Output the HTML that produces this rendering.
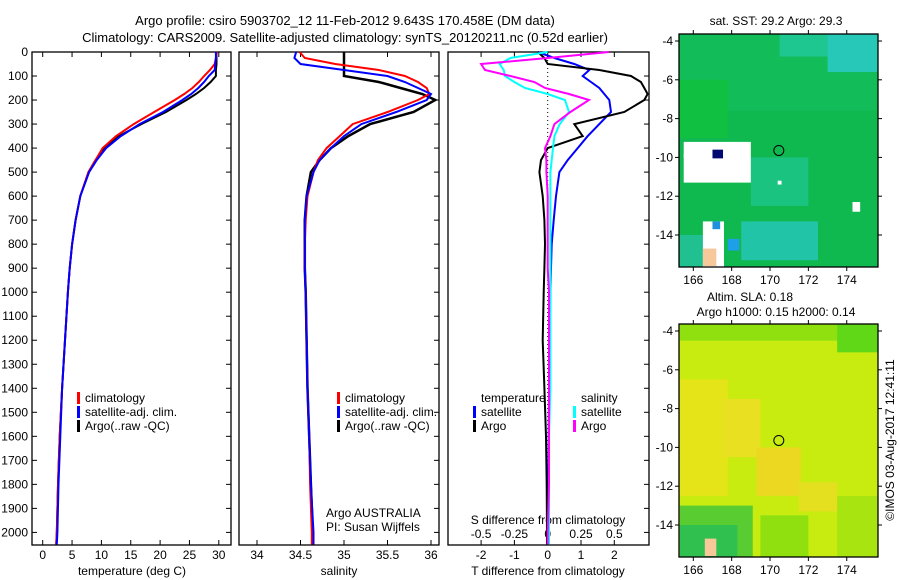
<!DOCTYPE html>
<html><head><meta charset="utf-8"><style>
body{margin:0;background:#fff}
svg{display:block;font-family:"Liberation Sans",sans-serif}
text{font-size:12px;fill:#000}
</style></head><body>
<svg id="c" width="900" height="580" viewBox="0 0 900 580">
<defs>
<clipPath id="clip1"><rect x="679" y="34" width="199" height="233"/></clipPath>
<clipPath id="clip2"><rect x="679" y="324" width="199" height="233"/></clipPath>
</defs>
<text x="345" y="25" text-anchor="middle" style="font-size:13px">Argo profile: csiro 5903702_12 11-Feb-2012 9.643S 170.458E (DM data)</text>
<text x="345" y="42" text-anchor="middle" style="font-size:13px">Climatology: CARS2009. Satellite-adjusted climatology: synTS_20120211.nc (0.52d earlier)</text>
<g id="g"></g>
</svg>
<script>
// depth levels
const depths=[0,25,50,75,100,125,150,175,200,250,300,350,400,450,500,600,700,800,900,1000,1200,1400,1600,1800,2000,2050];
const tClim=[29.7,29.5,29.3,28.5,27.5,26.6,25.5,24.1,22.5,19,15.5,12.5,10.2,9.0,7.8,6.4,5.6,5.0,4.6,4.3,3.8,3.3,2.9,2.6,2.4,2.3];
const tSat=[29.5,29.5,29.4,29.3,28.3,27.5,26.5,25.3,23.8,20.5,16.5,13.3,10.8,9.2,7.9,6.4,5.6,5.0,4.6,4.3,3.8,3.3,3.0,2.7,2.5,2.4];
const tArgo=[29.6,29.6,29.6,29.5,29.5,28.6,27.5,26.1,24.5,21,16.8,13,10.5,9.0,7.8,6.4,5.6,5.0,4.6,4.3,3.8,3.3,2.9,2.6,2.4,2.3];
const sClim=[34.49,34.55,34.9,35.4,35.7,35.85,35.95,35.98,35.85,35.5,35.1,34.95,34.8,34.7,34.65,34.58,34.56,34.55,34.55,34.56,34.57,34.58,34.6,34.61,34.63,34.63];
const sSat=[34.45,34.43,34.5,35.0,35.5,35.7,35.85,36.0,35.95,35.6,35.2,35.0,34.85,34.72,34.65,34.57,34.55,34.55,34.55,34.56,34.57,34.58,34.6,34.62,34.65,34.65];
const sArgo=[35.0,35.0,35.0,35.0,35.0,35.4,35.65,35.9,36.05,35.8,35.3,35.05,34.85,34.72,34.62,34.57,34.55,34.55,34.55,34.56,34.57,34.58,34.6,34.62,34.64,34.64];
const dTSat=[-0.3,0.2,0.8,1.25,1.05,1.3,1.55,1.7,1.85,1.9,1.55,1.2,0.9,0.6,0.35,0.25,0.18,0.12,0.1,0.08,0.06,0.04,0.03,0.02,0.01,0.01];
const dTArgo=[-0.3,-0.1,0.0,1.55,2.5,2.8,2.9,3.0,2.9,2.3,0.8,1.05,0.0,-0.2,-0.25,-0.15,-0.1,-0.08,-0.1,-0.12,-0.15,-0.1,-0.05,-0.03,-0.02,-0.02];
const dSSat=[0,-0.28,-0.36,-0.33,-0.32,-0.25,-0.17,0,0.13,0.16,0.09,0.05,0.04,0.03,0.02,0.02,0.02,0.02,0.02,0.02,0.02,0.02,0.01,0.01,0.01,0.01];
const dSArgo=[0.46,0,-0.5,-0.47,-0.28,-0.1,-0.02,0.16,0.31,0.17,0.05,0.02,-0.02,-0.01,-0.01,0,0,0,0,0.01,0.01,0.01,0.01,0.01,0,0];
const depthTicks=[0,100,200,300,400,500,600,700,800,900,1000,1100,1200,1300,1400,1500,1600,1700,1800,1900,2000];
const tTicks=[0,5,10,15,20,25,30];
const sTicks=[34,34.5,35,35.5,36];
const sTickLabels=["34","34.5","35","35.5","36"];
const dTTicks=[-2,-1,0,1,2];
const dSTicks=[-0.5,-0.25,0,0.25,0.5];
const lonTicks=[166,168,170,172,174];
const latTicks=[-4,-6,-8,-10,-12,-14];
const argoLon=170.458, argoLat=-9.643;

const NS="http://www.w3.org/2000/svg";
const g=document.getElementById('g');
function el(tag,at,txt,parent){const e=document.createElementNS(NS,tag);for(const k in at)e.setAttribute(k,at[k]);if(txt!==undefined)e.textContent=txt;(parent||g).appendChild(e);return e;}
const yD=d=>52+d*0.2402;
const xT=t=>42.7+t*5.87;
const xS=s=>257+(s-34)*87;
const xdT=v=>547.7+v*33.3;
const xdS=v=>547.7+v*133.3;
const TOP=52,BOT=545;

function frame(x0,x1,name){
  const r=el('rect',{x:x0,y:TOP,width:x1-x0,height:BOT-TOP,fill:'none',stroke:'#000','stroke-width':1.3});
  
  
  depthTicks.forEach(d=>{
    el('line',{x1:x1,x2:x1-5,y1:yD(d),y2:yD(d),stroke:'#000'});
  });
}
frame(32,231,'temperature-panel');
frame(239,439,'salinity-panel');
frame(448,649,'difference-panel');
depthTicks.forEach(d=>{
  const t=el('text',{x:28,y:yD(d)+4,'text-anchor':'end'},String(d));
  
  
  el('line',{x1:32,x2:37,y1:yD(d),y2:yD(d),stroke:'#000'});
});
tTicks.forEach(v=>{
  el('line',{x1:xT(v),x2:xT(v),y1:BOT,y2:BOT-5,stroke:'#000'});
  el('line',{x1:xT(v),x2:xT(v),y1:TOP,y2:TOP+5,stroke:'#000'});
  const t=el('text',{x:xT(v),y:559,'text-anchor':'middle'},String(v));
  
  
});
sTicks.forEach((v,i)=>{
  el('line',{x1:xS(v),x2:xS(v),y1:BOT,y2:BOT-5,stroke:'#000'});
  el('line',{x1:xS(v),x2:xS(v),y1:TOP,y2:TOP+5,stroke:'#000'});
  const t=el('text',{x:xS(v),y:559,'text-anchor':'middle'},sTickLabels[i]);
  
  
});
dTTicks.forEach(v=>{
  el('line',{x1:xdT(v),x2:xdT(v),y1:BOT,y2:BOT-5,stroke:'#000'});
  el('line',{x1:xdT(v),x2:xdT(v),y1:TOP,y2:TOP+5,stroke:'#000'});
  const t=el('text',{x:xdT(v),y:559,'text-anchor':'middle'},String(v));
  
  
});
dSTicks.forEach(v=>{
  const t=el('text',{x:xdS(v),y:538,'text-anchor':'middle'},String(v));
  
  
});
el('line',{x1:xdT(0),x2:xdT(0),y1:TOP,y2:BOT,stroke:'#000','stroke-dasharray':'1,3'});
[['temperature (deg C)',132,'x-axis-title-temperature'],['salinity',339,'x-axis-title-salinity'],['T difference from climatology',548,'x-axis-title-t-diff']].forEach(a=>{
  const t=el('text',{x:a[1],y:575,'text-anchor':'middle'},a[0]);
  
  
});
const st=el('text',{x:548,y:524,'text-anchor':'middle'},'S difference from climatology');



function line(vals,xf,color,w,name){
  const pts=depths.map((d,i)=>xf(vals[i]).toFixed(1)+','+yD(d).toFixed(1)).join(' ');
  const p=el('polyline',{points:pts,fill:'none',stroke:color,'stroke-width':w});
  
  
}
line(tArgo,xT,'#000',2,'temp-argo-line');
line(tClim,xT,'#f00',2,'temp-climatology-line');
line(tSat,xT,'#00f',2,'temp-satellite-line');
line(sArgo,xS,'#000',2.5,'sal-argo-line');
line(sClim,xS,'#f00',2,'sal-climatology-line');
line(sSat,xS,'#00f',2,'sal-satellite-line');
line(dTSat,xdT,'#00f',2,'tdiff-satellite-line');
line(dTArgo,xdT,'#000',2,'tdiff-argo-line');
line(dSSat,xdS,'#0ff',2,'sdiff-satellite-line');
line(dSArgo,xdS,'#f0f',2,'sdiff-argo-line');

function legend(x,y,items,name){
  items.forEach((it,i)=>{
    if(it[1]) el('rect',{x:x,y:y+i*14-10,width:3,height:12,fill:it[1]});
    const t=el('text',{x:x+(it[1]?8:0),y:y+i*14},it[0]);
    
    
  });
}
legend(77,402,[['climatology','#f00'],['satellite-adj. clim.','#00f'],['Argo(..raw -QC)','#000']],'legend-entry');
legend(337,402,[['climatology','#f00'],['satellite-adj. clim.','#00f'],['Argo(..raw -QC)','#000']],'legend-entry');
legend(481,402,[['temperature',null]],'legend-header');
legend(473,416,[['satellite','#00f'],['Argo','#000']],'legend-entry');
legend(581,402,[['salinity',null]],'legend-header');
legend(573,416,[['satellite','#0ff'],['Argo','#f0f']],'legend-entry');
const n1=el('text',{x:326,y:517},'Argo AUSTRALIA');
const n2=el('text',{x:326,y:531},'PI: Susan Wijffels');

// maps
function map(top,name,clip,base,patches){
  const L=679,R=878,B=top+233;
  const xL=lon=>693.3+(lon-166)*19.18;
  const yL=lat=>top+7+(-4-lat)*19.4;
  const grp=el('g',{'clip-path':'url(#'+clip+')'});
  const bg=el('rect',{x:L,y:top,width:R-L,height:B-top,fill:base},undefined,grp);
  
  
  patches.forEach(p=>el('rect',{x:xL(p[0]),y:yL(p[1]),width:p[2]*19.18,height:p[3]*19.4,fill:p[4]},undefined,grp));
  el('rect',{x:L,y:top,width:R-L,height:B-top,fill:'none',stroke:'#000','stroke-width':1.3});
  lonTicks.forEach(v=>{
    el('line',{x1:xL(v),x2:xL(v),y1:B,y2:B+4,stroke:'#000'});
    el('line',{x1:xL(v),x2:xL(v),y1:top,y2:top-4,stroke:'#000'});
    const t=el('text',{x:xL(v),y:B+17,'text-anchor':'middle'},String(v));
    
  });
  latTicks.forEach(v=>{
    el('line',{x1:L,x2:L-4,y1:yL(v),y2:yL(v),stroke:'#000'});
    el('line',{x1:R,x2:R+4,y1:yL(v),y2:yL(v),stroke:'#000'});
    const t=el('text',{x:673,y:yL(v)+4,'text-anchor':'end'},String(v));
    
  });
  const c=el('circle',{cx:xL(argoLon),cy:yL(argoLat),r:5,fill:'none',stroke:'#000'});
  
}
map(34,'sst-map','clip1','#10b850',[
 [165.3,-3.6,10.5,4,'#12bc58'],[170.5,-3.6,3,1.2,'#1ec690'],[173,-3.6,2.6,2,'#28c8b8'],[165.3,-6,2.5,3,'#10c040'],
 [169,-10,3,2.5,'#1ac480'],[168.5,-13.3,4,2,'#22c4a8'],[165.3,-14,2,2,'#20c090'],
 [165.5,-9.2,3.5,2.1,'#ffffff'],[165.5,-9.8,0.3,0.2,'#ffffff'],[166.4,-9.4,1,1,'#ffffff'],
 [167,-9.6,0.55,0.45,'#000a70'],[166.5,-13.3,1.1,2.6,'#ffffff'],[167.8,-14.2,0.6,0.6,'#1ea0e8'],[167,-13.3,0.4,0.4,'#1e90e0'],
 [166.5,-14.7,0.7,0.9,'#f6c89a'],[174.3,-12.3,0.4,0.5,'#ffffff'],[170.4,-11.2,0.2,0.2,'#ffffff']]);
map(324,'sla-map','clip2','#c8ec10',[
 [165.3,-3.6,10.5,0.9,'#90e010'],[173.5,-3.6,2.2,1.5,'#60d818'],[165.3,-6.5,2.5,6,'#e4e418'],
 [167.5,-7.5,2,3,'#e8e020'],[169.3,-10,2.3,2.5,'#ecd820'],[171.5,-11.8,2,1.5,'#e4e020'],
 [165.3,-13,3.8,2.7,'#58cc30'],[165.3,-14,3,1.7,'#30c050'],[169.5,-13.5,2.5,2.2,'#90e010'],[173.5,-12.5,2.2,3.2,'#a8e410'],
 [166.6,-14.7,0.6,0.9,'#f6c89a']]);
[['sat. SST: 29.2  Argo: 29.3',776,25,'sst-map-title'],['Altim. SLA: 0.18',750,301,'sla-map-title'],['Argo h1000: 0.15 h2000: 0.14',776,316,'sla-map-subtitle']].forEach(a=>{
  const t=el('text',{x:a[1],y:a[2],'text-anchor':'middle'},a[0]);
  
});
const cr=el('text',{x:894,y:440,'text-anchor':'middle',transform:'rotate(-90 894 440)'},'©IMOS 03-Aug-2017 12:41:11');

</script>
</body></html>
